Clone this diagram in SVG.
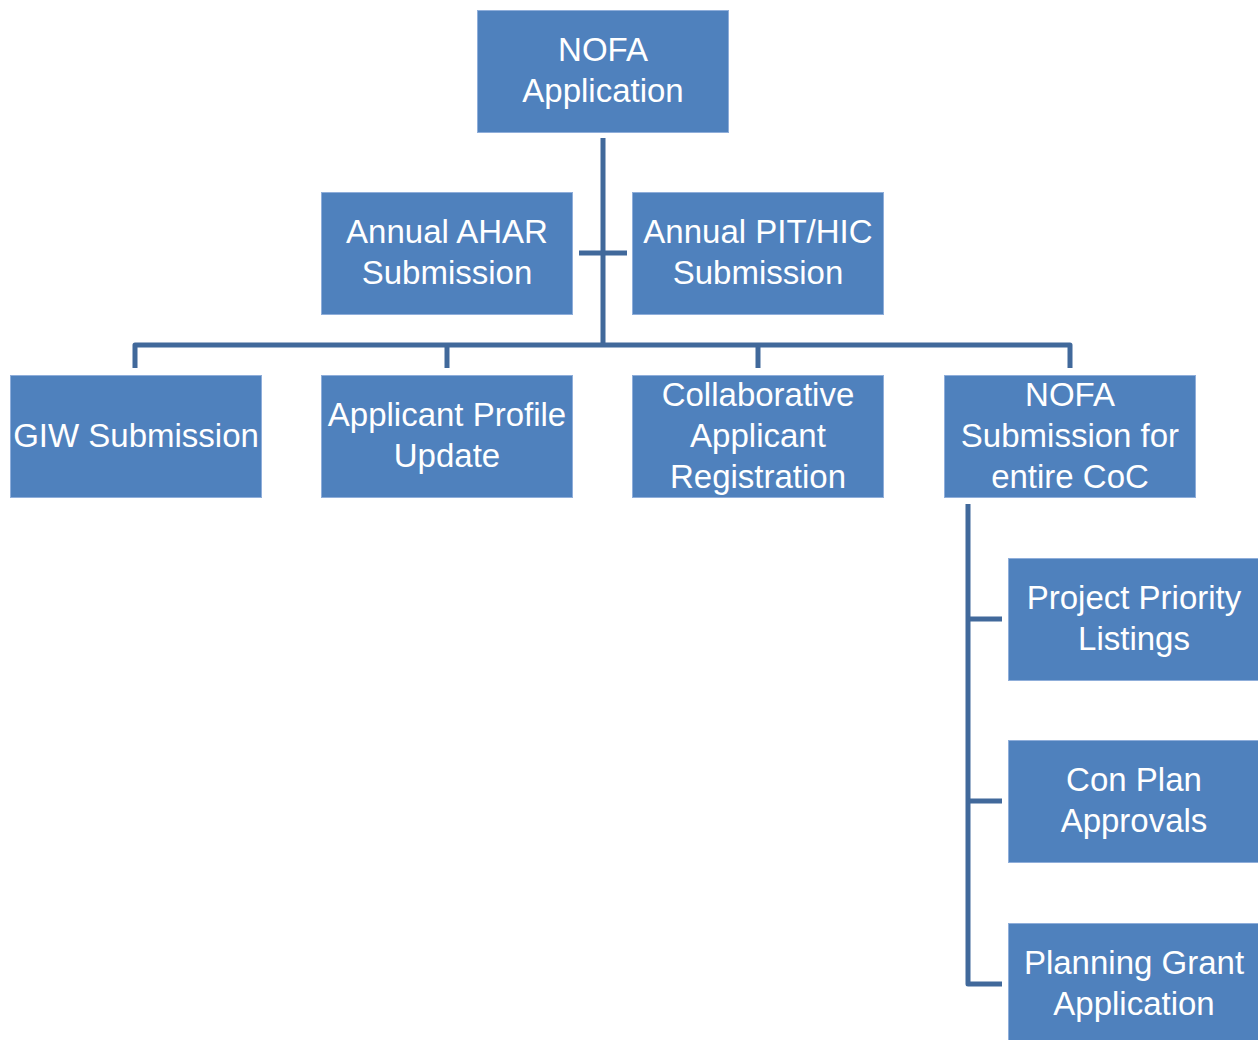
<svg xmlns="http://www.w3.org/2000/svg" width="1258" height="1040" viewBox="0 0 1258 1040">
<style>
.box{fill:#4F81BD;stroke:#8FAEDA;stroke-width:1}
.t{font-family:"Liberation Sans",Arial,sans-serif;font-size:33px;fill:#FFFFFF;text-anchor:middle}
.c{fill:none;stroke:#41699B;stroke-width:5;stroke-linejoin:round;stroke-linecap:butt}
</style>
<rect width="1258" height="1040" fill="#FFFFFF"/>
<g id="connectors">
<path class="c" d="M603 138 V345"/>
<path class="c" d="M579 253 H627"/>
<path class="c" d="M135 368 V345 H1070 V368"/>
<path class="c" d="M447 345 V368"/>
<path class="c" d="M758 345 V368"/>
<path class="c" d="M968 504 V984 H1002"/>
<path class="c" d="M968 619 H1002"/>
<path class="c" d="M968 801 H1002"/>
</g>
<g id="nofa-application">
<rect class="box" x="477.5" y="10.5" width="251" height="122"/>
<text class="t" x="603" y="61">NOFA</text>
<text class="t" x="603" y="102">Application</text>
</g>
<g id="annual-ahar">
<rect class="box" x="321.5" y="192.5" width="251" height="122"/>
<text class="t" x="447" y="243">Annual AHAR</text>
<text class="t" x="447" y="284">Submission</text>
</g>
<g id="annual-pit-hic">
<rect class="box" x="632.5" y="192.5" width="251" height="122"/>
<text class="t" x="758" y="243">Annual PIT/HIC</text>
<text class="t" x="758" y="284">Submission</text>
</g>
<g id="giw-submission">
<rect class="box" x="10.5" y="375.5" width="251" height="122"/>
<text class="t" x="136" y="447">GIW Submission</text>
</g>
<g id="applicant-profile">
<rect class="box" x="321.5" y="375.5" width="251" height="122"/>
<text class="t" x="447" y="426">Applicant Profile</text>
<text class="t" x="447" y="467">Update</text>
</g>
<g id="collaborative-applicant">
<rect class="box" x="632.5" y="375.5" width="251" height="122"/>
<text class="t" x="758" y="406">Collaborative</text>
<text class="t" x="758" y="447">Applicant</text>
<text class="t" x="758" y="488">Registration</text>
</g>
<g id="nofa-submission">
<rect class="box" x="944.5" y="375.5" width="251" height="122"/>
<text class="t" x="1070" y="406">NOFA</text>
<text class="t" x="1070" y="447">Submission for</text>
<text class="t" x="1070" y="488">entire CoC</text>
</g>
<g id="project-priority">
<rect class="box" x="1008.5" y="558.5" width="251" height="122"/>
<text class="t" x="1134" y="609">Project Priority</text>
<text class="t" x="1134" y="650">Listings</text>
</g>
<g id="con-plan">
<rect class="box" x="1008.5" y="740.5" width="251" height="122"/>
<text class="t" x="1134" y="791">Con Plan</text>
<text class="t" x="1134" y="832">Approvals</text>
</g>
<g id="planning-grant">
<rect class="box" x="1008.5" y="923.5" width="251" height="122"/>
<text class="t" x="1134" y="974">Planning Grant</text>
<text class="t" x="1134" y="1015">Application</text>
</g>
</svg>
